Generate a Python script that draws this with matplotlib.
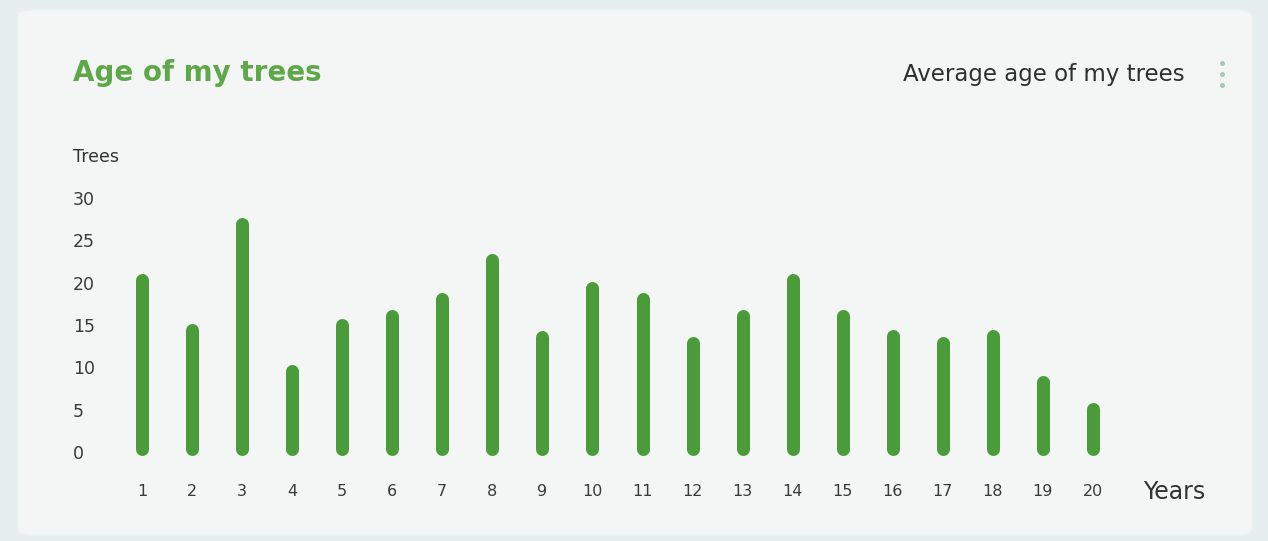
import matplotlib
matplotlib.use("Agg")
import matplotlib.pyplot as plt
from matplotlib.patches import FancyBboxPatch
from matplotlib.lines import Line2D

years = list(range(1, 21))
trees = [21.1, 15.2, 27.7, 10.3, 15.8, 16.8, 18.8, 23.5, 14.4, 20.1,
         18.8, 13.7, 16.8, 21.1, 16.8, 14.5, 13.7, 14.5, 9.0, 5.8]
yticks = [0, 5, 10, 15, 20, 25, 30]
title = "Age of my trees"
subtitle = "Average age of my trees"
ylabel = "Trees"
xlabel = "Years"

W, H = 1268, 541
plt.rcParams['font.family'] = ['DejaVu Sans']
fig = plt.figure(figsize=(W / 100, H / 100), dpi=100)
fig.patch.set_facecolor('#e7eef0')

card = FancyBboxPatch((18 / W, 6 / H), 1234 / W, 525 / H,
                      boxstyle="round,pad=0,rounding_size=0.012",
                      transform=fig.transFigure, facecolor='#f3f6f5',
                      edgecolor='#edf1f1', linewidth=1, zorder=-10)
fig.patches.append(card)

ax = fig.add_axes([117 / W, (H - 452) / H, 1051 / W, 254 / H])
ax.set_zorder(5)
ax.set_facecolor('none')
ax.set_xlim(0.5, 21.5)
ax.set_ylim(0, 30)
for s in ax.spines.values():
    s.set_visible(False)

fig.canvas.draw()
px_per_unit = ax.bbox.height / 30.0
bar_px = 13
cap = (bar_px / 2) / px_per_unit
lw_pt = bar_px * 72 / 100
bottoms = [cap * 0.5] * len(trees)
tops = [v - cap for v in trees]
ax.vlines(years, bottoms, tops, colors='#4a9c3b', linewidth=lw_pt,
          capstyle='round', clip_on=False, zorder=3)

ax.set_yticks(yticks)
ax.set_yticklabels([str(t) for t in yticks], ha='left')
ax.tick_params(axis='y', length=0, pad=31.7, labelsize=12.5, labelcolor='#3a3a3a')
ax.set_xticks(years)
ax.set_xticklabels([str(y) for y in years])
ax.tick_params(axis='x', length=0, pad=28.8, labelsize=11.5, labelcolor='#3a3a3a')
for lbl in ax.get_xticklabels():
    lbl.set_va('center')

fig.text(73 / W, 1 - 157 / H, ylabel, fontsize=12.5, color='#333333',
         ha='left', va='center')
fig.text(1143 / W, 1 - 492 / H, xlabel, fontsize=17, color='#333333',
         ha='left', va='center')
fig.text(73 / W, 1 - 73 / H, title, fontsize=20, color='#5ea84a',
         ha='left', va='center', fontweight='bold')
fig.text(1185 / W, 1 - 75 / H, subtitle, fontsize=16.5, color='#2f2f2f',
         ha='right', va='center')

dots = Line2D([1222 / W] * 3, [1 - 63 / H, 1 - 74 / H, 1 - 85 / H],
              transform=fig.transFigure, linestyle='none', marker='o',
              markersize=3.6, markerfacecolor='#a3cbb3',
              markeredgecolor='none')
fig.add_artist(dots)

fig.savefig("out.png", dpi=100, facecolor=fig.get_facecolor())
